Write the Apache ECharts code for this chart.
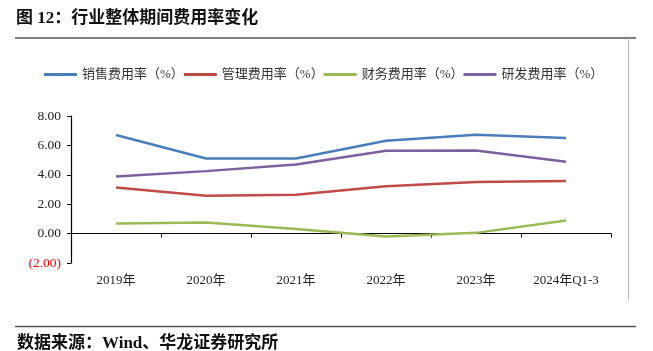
<!DOCTYPE html>
<html>
<head>
<meta charset="utf-8">
<script src="https://cdn.jsdelivr.net/npm/echarts@6/dist/echarts.min.js"></script>
<style>
html,body{margin:0;padding:0;background:#fff;}
#container{width:653px;height:351px;}
</style>
</head>
<body>
<div id="container"></div>
<script>
var categories = ['2019年','2020年','2021年','2022年','2023年','2024年Q1-3'];
var seriesNames = ['销售费用率（%）','管理费用率（%）','财务费用率（%）','研发费用率（%）'];
var salesRate = [6.71, 5.11, 5.11, 6.32, 6.73, 6.50];
var adminRate = [3.13, 2.58, 2.65, 3.22, 3.51, 3.58];
var financeRate = [0.68, 0.75, 0.32, -0.20, 0.05, 0.89];
var rdRate = [3.88, 4.25, 4.70, 5.64, 5.66, 4.88];
var colors = ['#4A7EBB','#BE4B48','#98B954','#7D60A0'];

var serifFont = '"Liberation Serif","Noto Sans CJK SC",serif';
var myChart = echarts.init(document.getElementById('container'));

function makeLine(name, data, color){
	return {
		name: name,
		type: 'line',
		data: data,
		symbol: 'none',
		smooth: false,
		lineStyle: {color: color, width: 2.5},
		itemStyle: {color: color}
	};
}

var option = {
	animation: false,
	backgroundColor: '#fff',
	textStyle: {fontFamily: serifFont},
	legend: {
		top: 63,
		left: 39,
		itemWidth: 33,
		itemHeight: 3,
		itemGap: 0,
		icon: 'rect',
		textStyle: {fontSize: 13, color: '#333', fontFamily: serifFont},
		data: seriesNames
	},
	grid: {left: 71, right: 42, top: 116, bottom: 88, containLabel: false},
	xAxis: {
		type: 'category',
		data: categories,
		boundaryGap: true,
		axisLine: {onZero: true, lineStyle: {color: '#000', width: 1.2}},
		axisTick: {show: true, inside: false, length: 4, lineStyle: {color: '#000'}},
		axisLabel: {margin: 11, fontSize: 13, color: '#222', fontFamily: serifFont}
	},
	yAxis: {
		type: 'value',
		min: -2,
		max: 8,
		interval: 2,
		axisLine: {show: true, lineStyle: {color: '#000', width: 1.2}},
		axisTick: {show: true, length: 4, lineStyle: {color: '#000'}},
		splitLine: {show: false},
		axisLabel: {
			margin: 10,
			fontSize: 13.5,
			fontFamily: serifFont,
			formatter: function(v){
				if(v < 0){ return '{neg|(' + Math.abs(v).toFixed(2) + ')}'; }
				return v.toFixed(2);
			},
			color: '#222',
			rich: {neg: {color: '#FF0000', fontSize: 13.5, fontFamily: serifFont}}
		}
	},
	series: [
		makeLine(seriesNames[0], salesRate, colors[0]),
		makeLine(seriesNames[1], adminRate, colors[1]),
		makeLine(seriesNames[2], financeRate, colors[2]),
		makeLine(seriesNames[3], rdRate, colors[3])
	],
	graphic: [
		{type: 'text', left: 16, top: 10, style: {text: '图 12：行业整体期间费用率变化', fontSize: 17, fontWeight: 'bold', fill: '#111', fontFamily: serifFont}},
		{type: 'line', shape: {x1: 15, y1: 38, x2: 636, y2: 38}, style: {stroke: '#555', lineWidth: 1.5}},
		{type: 'line', shape: {x1: 628.5, y1: 38, x2: 628.5, y2: 300}, style: {stroke: '#bbb', lineWidth: 1}},
		{type: 'line', shape: {x1: 15, y1: 326.5, x2: 636, y2: 326.5}, style: {stroke: '#555', lineWidth: 1.5}},
		{type: 'text', left: 17, top: 335, style: {text: '数据来源：Wind、华龙证券研究所', fontSize: 17, fontWeight: 'bold', fill: '#111', fontFamily: serifFont}}
	]
};
myChart.setOption(option, true);
</script>
</body>
</html>
